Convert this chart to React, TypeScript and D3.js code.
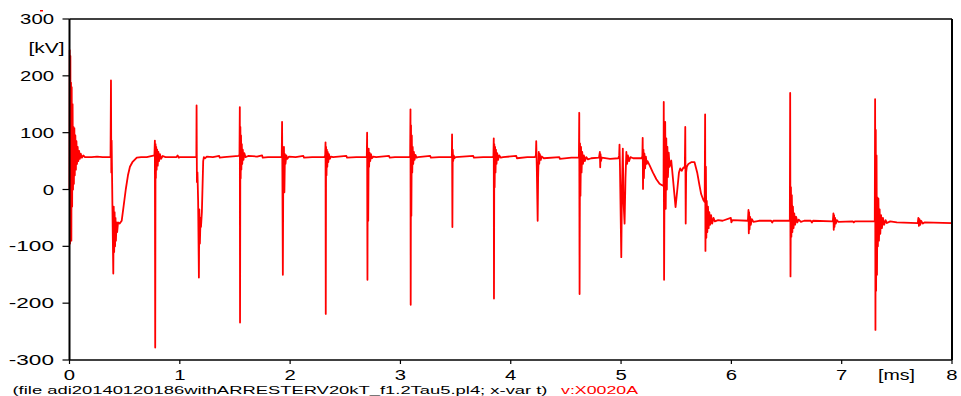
import React from "react";
import * as d3 from "d3";

// [time in ms, voltage in kV]
const trace0to1: [number, number][] = [
  [0.000, 0], [0.002, 245], [0.005, -95], [0.008, 235], [0.011, -60], [0.014, 188], [0.017, -90], [0.020, 180],
  [0.024, -30], [0.028, 150], [0.032, 0], [0.036, 110], [0.040, 10], [0.044, 108], [0.048, 25], [0.053, 95],
  [0.058, 35], [0.063, 85], [0.068, 45], [0.074, 75], [0.080, 50], [0.087, 68], [0.094, 54], [0.102, 63],
  [0.112, 56], [0.125, 60], [0.14, 57], [0.20, 57], [0.25, 58], [0.30, 57], [0.372, 57],
  [0.376, 192], [0.379, 30], [0.382, 86], [0.386, 20], [0.391, -60], [0.397, -148], [0.401, -30], [0.405, -110],
  [0.409, -40], [0.413, -100], [0.417, -50], [0.421, -90], [0.426, -58], [0.432, -75], [0.440, -58], [0.455, -60],
  [0.473, -55], [0.490, -30], [0.510, 0], [0.530, 25], [0.548, 40], [0.570, 48], [0.610, 56], [0.650, 57],
  [0.700, 57], [0.770, 60],
  [0.774, 86], [0.777, -278], [0.780, 80], [0.783, 20], [0.786, 75], [0.790, 35], [0.795, 70], [0.800, 42],
  [0.806, 66], [0.812, 50], [0.820, 62], [0.830, 54], [0.845, 59], [0.87, 57], [0.97, 57], [0.98, 60], [0.99, 56],
];

const trace1to2: [number, number][] = [
  [1.00, 57], [1.145, 57], [1.150, 58], [1.152, 148], [1.155, 13], [1.160, 30], [1.166, -20], [1.173, -155],
  [1.177, -35], [1.182, -95], [1.188, -50], [1.192, -66], [1.200, -40], [1.212, 50], [1.218, 57], [1.23, 55],
  [1.245, 58], [1.30, 57], [1.357, 59], [1.362, 56], [1.40, 57], [1.535, 59], [1.541, 62], [1.544, 145],
  [1.546, -234], [1.549, 110], [1.552, 20], [1.555, 95], [1.558, 35], [1.562, 80], [1.566, 45], [1.571, 70],
  [1.577, 52], [1.585, 64], [1.595, 57], [1.62, 59], [1.70, 58], [1.746, 60], [1.752, 56], [1.80, 57],
  [1.915, 57], [1.924, 57], [1.927, 119], [1.930, 22], [1.934, -150], [1.938, 30], [1.944, 75], [1.948, -5],
  [1.953, 62], [1.958, 45], [1.965, 60], [1.975, 54], [1.99, 58],
];

const trace2to3: [number, number][] = [
  [2.05, 57], [2.12, 59], [2.126, 56], [2.20, 57], [2.31, 57], [2.318, 60], [2.321, 83], [2.323, -219],
  [2.326, 75], [2.330, 25], [2.333, 70], [2.337, 40], [2.341, 66], [2.346, 48], [2.352, 62], [2.36, 54],
  [2.37, 58], [2.39, 57], [2.51, 59], [2.516, 56], [2.60, 57], [2.69, 57], [2.695, 58], [2.698, 100],
  [2.701, -159], [2.704, 70], [2.708, -55], [2.712, 72], [2.716, 40], [2.72, 65], [2.726, 50], [2.733, 62],
  [2.742, 55], [2.755, 58], [2.78, 57], [2.897, 59], [2.903, 56], [2.95, 57],
];

const trace3to4: [number, number][] = [
  [3.08, 57], [3.088, 58], [3.091, 141], [3.093, -203], [3.096, 113], [3.099, -46], [3.103, 95], [3.107, 30],
  [3.111, 75], [3.116, 45], [3.122, 66], [3.128, 52], [3.136, 61], [3.146, 56], [3.16, 57], [3.27, 59],
  [3.276, 56], [3.35, 57], [3.46, 57], [3.466, 58], [3.468, 97], [3.471, -66], [3.474, 70], [3.478, 50],
  [3.483, 60], [3.49, 55], [3.5, 57], [3.66, 59], [3.666, 56], [3.75, 57], [3.835, 57], [3.843, 58],
  [3.846, 90], [3.848, -192], [3.851, 80], [3.854, 4], [3.858, 75], [3.862, 30], [3.866, 70], [3.871, 45],
  [3.877, 64], [3.885, 52], [3.895, 60], [3.91, 56], [3.93, 57],
];

const trace4to5: [number, number][] = [
  [4.05, 59], [4.056, 55], [4.15, 57], [4.22, 57], [4.228, 60], [4.231, 85], [4.236, 40], [4.244, -55],
  [4.248, 20], [4.254, 66], [4.258, 45], [4.264, 62], [4.272, 52], [4.28, 58], [4.3, 55], [4.44, 57],
  [4.446, 54], [4.55, 56], [4.61, 56], [4.618, 57], [4.621, 135], [4.624, -184], [4.628, 81], [4.632, -11],
  [4.637, 75], [4.642, 30], [4.648, 66], [4.655, 45], [4.663, 60], [4.672, 50], [4.684, 57], [4.70, 53],
  [4.73, 55], [4.80, 56], [4.808, 66], [4.811, 39], [4.814, 62], [4.818, 50], [4.825, 56], [4.90, 54],
  [4.975, 55], [4.983, 60], [4.986, 79], [4.990, 40], [5.002, -119],
];

const trace5to6: [number, number][] = [
  [5.008, 0], [5.016, 72], [5.022, -20], [5.032, -60], [5.040, 20], [5.048, 66], [5.055, 45], [5.062, 60],
  [5.072, 50], [5.085, 57], [5.11, 55], [5.185, 55], [5.193, 58], [5.196, 91], [5.199, 1], [5.203, 70],
  [5.207, 20], [5.212, 63], [5.218, 37], [5.225, 58], [5.232, 45], [5.240, 50], [5.260, 42], [5.288, 30],
  [5.320, 18], [5.349, 10], [5.376, 7], [5.385, 7], [5.387, 154], [5.390, -159], [5.395, 60], [5.400, 119],
  [5.405, -34], [5.410, 90], [5.415, 0], [5.420, 75], [5.425, 22], [5.432, 65], [5.440, 40], [5.455, 51],
  [5.470, 20], [5.494, -31], [5.510, 0], [5.525, 30], [5.536, 37], [5.550, 33], [5.566, 39], [5.578, 38],
  [5.582, 110], [5.586, -60], [5.590, 30], [5.596, 40], [5.610, 45], [5.636, 48], [5.666, 48], [5.690, 30],
  [5.710, 8], [5.726, -8], [5.745, -18], [5.758, -22], [5.762, 132], [5.765, -108], [5.769, 40], [5.773, -85],
  [5.777, -20], [5.782, -75], [5.788, -30], [5.794, -68], [5.800, -40], [5.808, -62], [5.816, -45], [5.826, -60],
  [5.838, -50], [5.85, -56], [5.88, -54], [5.92, -55], [5.995, -50], [6.0, -58],
];

const trace6to7: [number, number][] = [
  [6.01, -54], [6.150, -55], [6.155, -36], [6.158, -77], [6.161, -40], [6.165, -70], [6.170, -48], [6.176, -62],
  [6.185, -52], [6.20, -57], [6.25, -55], [6.36, -55], [6.37, -58], [6.38, -55], [6.525, -55], [6.530, -53],
  [6.533, 170], [6.536, -153], [6.540, 4], [6.544, -83], [6.548, -10], [6.553, -75], [6.558, -30], [6.564, -68],
  [6.570, -42], [6.578, -62], [6.587, -48], [6.598, -58], [6.61, -53], [6.63, -57], [6.66, -55], [6.72, -55],
  [6.73, -58], [6.74, -55], [6.920, -56], [6.925, -42], [6.928, -71], [6.931, -45], [6.935, -66], [6.940, -50],
  [6.947, -60], [6.956, -54], [6.97, -57],
];

const trace7to8: [number, number][] = [
  [7.10, -56], [7.11, -58], [7.12, -56], [7.295, -56], [7.300, -55], [7.303, 159], [7.306, -247], [7.309, 105],
  [7.312, -178], [7.316, 60], [7.320, -150], [7.324, -14], [7.328, -100], [7.333, -16], [7.338, -90], [7.344, -35],
  [7.350, -78], [7.357, -45], [7.365, -68], [7.374, -50], [7.385, -62], [7.398, -54], [7.41, -59], [7.44, -56],
  [7.5, -58], [7.69, -59], [7.695, -50], [7.700, -64], [7.705, -52], [7.712, -62], [7.72, -55], [7.735, -60],
  [7.75, -58], [8.0, -59],
];

const xTicks = [0, 1, 2, 3, 4, 5, 6, 7, 8];
const yTicks = [-300, -200, -100, 0, 100, 200, 300];
const yUnit = "[kV]";
const xUnit = "[ms]";
const footerFile = "(file adi20140120186withARRESTERV20kT_f1.2Tau5.pl4; x-var t)";
const footerVar = "v:X0020A";

const W = 961;
const H = 396;
const FONT = "'Liberation Sans', Arial, sans-serif";

export default function App() {
  const x = d3.scaleLinear().domain([0, 8]).range([69.5, 952]);
  const y = d3.scaleLinear().domain([-300, 300]).range([360, 19]);
  const data = [
    ...trace0to1, ...trace1to2, ...trace2to3, ...trace3to4,
    ...trace4to5, ...trace5to6, ...trace6to7, ...trace7to8,
  ];
  const line = d3
    .line<[number, number]>()
    .x((d) => x(d[0]))
    .y((d) => y(d[1]));
  const digitW = 11.3;

  return (
    <svg
      width={W}
      height={H}
      style={{ position: "absolute", left: 0, top: 0, background: "#fff" }}
      fontFamily={FONT}
    >
      <rect x={0} y={0} width={W} height={H} fill="#fff" />
      <rect x={40} y={10} width={3} height={1.5} fill="#ff0000" />
      {/* trace */}
      <path d={line(data) || ""} fill="none" stroke="#ff0000" strokeWidth={1.8} strokeLinejoin="round" />
      {/* frame */}
      <line x1={x(0)} x2={x(8)} y1={y(300)} y2={y(300)} stroke="#000" strokeWidth={1.5} />
      <line x1={x(8)} x2={x(8)} y1={y(300)} y2={y(-300)} stroke="#000" strokeWidth={2} />
      <line x1={x(0)} x2={x(8)} y1={y(-300)} y2={y(-300)} stroke="#000" strokeWidth={1.5} />
      <line x1={x(0)} x2={x(0)} y1={y(300)} y2={y(-300)} stroke="#000" strokeWidth={2} />
      {/* y ticks */}
      {yTicks.map((v) => {
        const label = String(v);
        return (
          <g key={"y" + v}>
            <line x1={x(0) - 7} x2={x(0)} y1={y(v)} y2={y(v)} stroke="#000" strokeWidth={1.2} />
            <text
              x={54}
              y={y(v)}
              dy="0.36em"
              textAnchor="end"
              fontSize={14}
              textLength={label.length * digitW}
              lengthAdjust="spacingAndGlyphs"
              fill="#000"
            >
              {label}
            </text>
          </g>
        );
      })}
      <text x={28.5} y={47.7} dy="0.36em" fontSize={14} textLength={36} lengthAdjust="spacingAndGlyphs" fill="#000">
        {yUnit}
      </text>
      {/* x ticks */}
      {xTicks.map((t) => (
        <g key={"x" + t}>
          <line x1={x(t)} x2={x(t)} y1={y(-300)} y2={y(-300) + 4} stroke="#000" strokeWidth={1.2} />
          <text
            x={x(t)}
            y={375}
            dy="0.36em"
            textAnchor="middle"
            fontSize={14}
            textLength={digitW}
            lengthAdjust="spacingAndGlyphs"
            fill="#000"
          >
            {String(t)}
          </text>
        </g>
      ))}
      <text x={878} y={375} dy="0.36em" fontSize={14} textLength={37} lengthAdjust="spacingAndGlyphs" fill="#000">
        {xUnit}
      </text>
      {/* footer */}
      <text x={12.5} y={393.5} fontSize={11.5} textLength={535} lengthAdjust="spacingAndGlyphs" fill="#000">
        {footerFile}
      </text>
      <text x={561} y={393.5} fontSize={11.5} textLength={77} lengthAdjust="spacingAndGlyphs" fill="#ff0000">
        {footerVar}
      </text>
    </svg>
  );
}
